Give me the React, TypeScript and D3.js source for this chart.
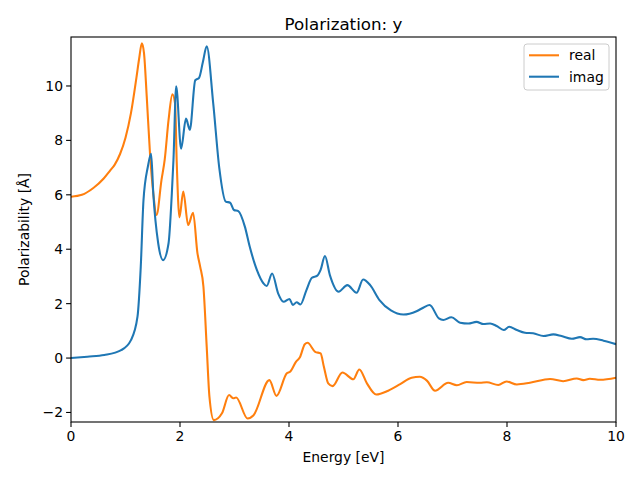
import * as d3 from "d3";

const W = 640;
const H = 480;
const MARGIN = { top: 37, right: 24, bottom: 58, left: 71 };

// energies [eV] and polarizability [Å]
const realE = [0, 0.2, 0.41, 0.6, 0.72, 0.8, 0.9, 1.0, 1.1, 1.2, 1.25, 1.3, 1.34, 1.39, 1.45, 1.51, 1.57, 1.66, 1.72, 1.79, 1.86, 1.91, 1.94, 1.99, 2.06, 2.15, 2.24, 2.32, 2.37, 2.43, 2.49, 2.54, 2.62, 2.77, 2.9, 2.98, 3.03, 3.24, 3.35, 3.64, 3.77, 3.96, 4.02, 4.13, 4.2, 4.29, 4.34, 4.48, 4.58, 4.64, 4.72, 4.8, 4.98, 5.18, 5.29, 5.43, 5.6, 5.82, 6.04, 6.25, 6.4, 6.53, 6.68, 6.92, 7.08, 7.26, 7.5, 7.63, 7.84, 7.99, 8.18, 8.42, 8.79, 9.03, 9.28, 9.4, 9.52, 9.71, 10];
const realY = [5.93, 6.0, 6.25, 6.6, 6.9, 7.1, 7.5, 8.1, 9.0, 10.3, 11.0, 11.57, 11.2, 9.6, 7.5, 6.06, 5.26, 6.54, 7.3, 8.75, 9.69, 9.35, 7.2, 5.17, 6.12, 4.89, 5.34, 3.86, 3.36, 2.62, 0.42, -1.42, -2.28, -2.03, -1.36, -1.48, -1.45, -2.22, -2.1, -0.81, -1.39, -0.56, -0.5, -0.13, 0.03, 0.51, 0.56, 0.23, 0.17, -0.32, -0.93, -1.03, -0.53, -0.78, -0.42, -0.93, -1.34, -1.2, -0.96, -0.72, -0.69, -0.83, -1.2, -0.91, -1.0, -0.88, -0.91, -0.89, -0.99, -0.86, -0.97, -0.91, -0.77, -0.85, -0.75, -0.81, -0.76, -0.8, -0.72];

const imagE = [0, 0.3, 0.61, 0.92, 1.1, 1.22, 1.28, 1.33, 1.41, 1.47, 1.51, 1.6, 1.69, 1.79, 1.85, 1.88, 1.93, 2.02, 2.11, 2.18, 2.28, 2.35, 2.42, 2.49, 2.61, 2.72, 2.84, 2.92, 2.99, 3.07, 3.19, 3.28, 3.41, 3.53, 3.59, 3.69, 3.8, 3.9, 4.01, 4.07, 4.14, 4.21, 4.32, 4.42, 4.52, 4.58, 4.66, 4.75, 4.91, 5.07, 5.24, 5.36, 5.49, 5.66, 5.87, 6.1, 6.34, 6.47, 6.58, 6.75, 6.83, 6.98, 7.14, 7.29, 7.44, 7.57, 7.69, 7.81, 7.94, 8.04, 8.18, 8.33, 8.48, 8.67, 8.85, 9.0, 9.19, 9.34, 9.46, 9.58, 9.77, 10];
const imagY = [0, 0.05, 0.11, 0.29, 0.66, 1.52, 3.36, 5.8, 7.03, 7.51, 6.05, 4.22, 3.6, 4.22, 6.05, 7.28, 9.99, 7.69, 8.8, 8.39, 10.21, 10.3, 10.88, 11.46, 9.35, 7.0, 5.75, 5.71, 5.44, 5.4, 4.83, 4.09, 3.24, 2.75, 2.65, 3.11, 2.38, 2.07, 2.17, 1.95, 2.05, 1.97, 2.5, 2.95, 3.03, 3.24, 3.75, 3.05, 2.44, 2.68, 2.4, 2.89, 2.68, 2.13, 1.75, 1.6, 1.72, 1.86, 1.95, 1.46, 1.4, 1.5, 1.3, 1.27, 1.33, 1.25, 1.27, 1.18, 1.03, 1.15, 1.03, 0.93, 0.91, 0.81, 0.87, 0.81, 0.71, 0.77, 0.69, 0.71, 0.64, 0.51];

const xTicks = [0, 2, 4, 6, 8, 10];
const yTicks = [-2, 0, 2, 4, 6, 8, 10];

const series = [
  { name: "real", color: "#ff7f0e", xs: realE, ys: realY },
  { name: "imag", color: "#1f77b4", xs: imagE, ys: imagY },
];

const FONT = "DejaVu Sans, sans-serif";

export default function App() {
  const boundsW = W - MARGIN.left - MARGIN.right;
  const boundsH = H - MARGIN.top - MARGIN.bottom;
  const x = d3.scaleLinear().domain([0, 10]).range([0, boundsW]);
  const y = d3.scaleLinear().domain([-2.35, 11.8]).range([boundsH, 0]);

  const line = d3
    .line<[number, number]>()
    .x((d) => x(d[0]))
    .y((d) => y(d[1]))
    .curve(d3.curveMonotoneX);

  return (
    <div style={{ position: "fixed", left: 0, top: 0 }}>
      <svg width={W} height={H} style={{ display: "block", background: "#fff" }}>
        <text x={MARGIN.left + boundsW / 2} y={30} textAnchor="middle" fontFamily={FONT} fontSize={16.7}>
          Polarization: y
        </text>
        <g transform={`translate(${MARGIN.left},${MARGIN.top})`}>
          <defs>
            <clipPath id="plotclip">
              <rect x={0} y={0} width={boundsW} height={boundsH} />
            </clipPath>
          </defs>
          <g clipPath="url(#plotclip)">
            {series.map((s) => (
              <path
                key={s.name}
                d={line(s.xs.map((e, i) => [e, s.ys[i]] as [number, number])) as string}
                fill="none"
                stroke={s.color}
                strokeWidth={2.08}
                strokeLinejoin="round"
              />
            ))}
          </g>
          {/* x axis */}
          {xTicks.map((t) => (
            <g key={"x" + t} transform={`translate(${x(t)},${boundsH})`}>
              <line y2={4.9} stroke="#000" strokeWidth={1.1} />
              <text y={19} textAnchor="middle" fontFamily={FONT} fontSize={13.9}>
                {t}
              </text>
            </g>
          ))}
          {/* y axis */}
          {yTicks.map((t) => (
            <g key={"y" + t} transform={`translate(0,${y(t)})`}>
              <line x2={-4.9} stroke="#000" strokeWidth={1.1} />
              <text x={-8} dy="0.35em" textAnchor="end" fontFamily={FONT} fontSize={13.9}>
                {t < 0 ? "\u2212" + Math.abs(t) : t}
              </text>
            </g>
          ))}
          <rect x={0} y={0} width={boundsW} height={boundsH} fill="none" stroke="#000" strokeWidth={1.1} />
          {/* legend */}
          <g transform={`translate(${boundsW - 92},7)`}>
            <rect x={0} y={0} width={85} height={46} rx={3} fill="#fff" fillOpacity={0.8} stroke="#ccc" strokeWidth={1} />
            {series.map((s, i) => (
              <g key={"lg" + s.name} transform={`translate(0,${11.3 + i * 21.4})`}>
                <line x1={5} x2={35} stroke={s.color} strokeWidth={2.08} />
                <text x={45} dy="0.35em" fontFamily={FONT} fontSize={13.9}>
                  {s.name}
                </text>
              </g>
            ))}
          </g>
        </g>
        <text x={MARGIN.left + boundsW / 2} y={462} textAnchor="middle" fontFamily={FONT} fontSize={13.9}>
          Energy [eV]
        </text>
        <text
          transform={`translate(29,${MARGIN.top + boundsH / 2}) rotate(-90)`}
          textAnchor="middle"
          fontFamily={FONT}
          fontSize={13.9}
        >
          Polarizability [Å]
        </text>
      </svg>
    </div>
  );
}
